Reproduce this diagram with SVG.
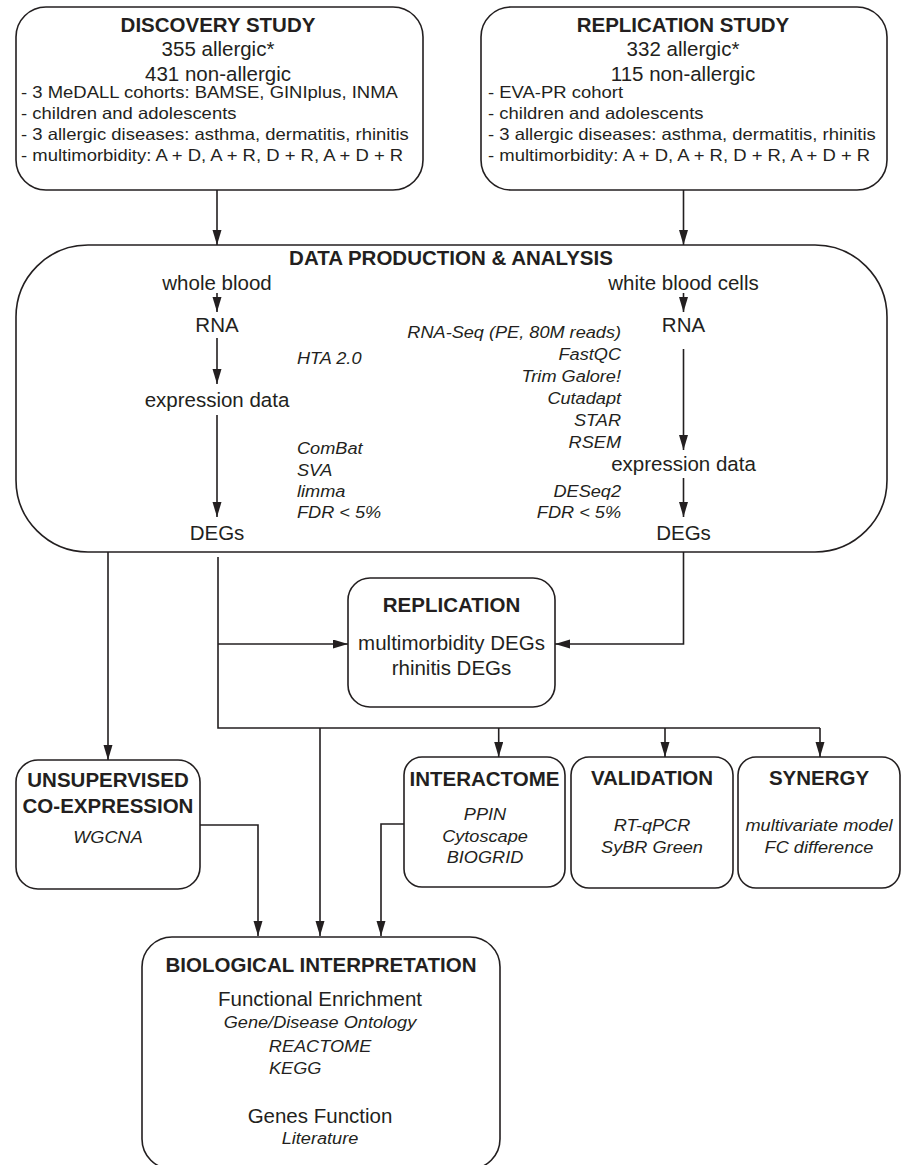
<svg xmlns="http://www.w3.org/2000/svg" width="904" height="1165" viewBox="0 0 904 1165">
<style>
text{font-family:"Liberation Sans",Arial,Helvetica,sans-serif;fill:#231f20}
.b{font-weight:bold;font-size:20.5px;text-anchor:middle}
.t{font-size:20.5px;text-anchor:middle}
.l{font-size:16.5px}
.i{font-size:16.5px;font-style:italic}
.c{text-anchor:middle}
.r{text-anchor:end}
.box{fill:#fff;stroke:#231f20;stroke-width:1.6}
.ln{fill:none;stroke:#231f20;stroke-width:1.6}
.ar{fill:none;stroke:#231f20;stroke-width:1.6;marker-end:url(#ah)}
</style>
<defs>
<marker id="ah" markerUnits="userSpaceOnUse" markerWidth="15" markerHeight="10" refX="15" refY="4.5" orient="auto">
<path d="M0,0 L15,4.5 L0,9 z" fill="#231f20"/>
</marker>
</defs>
<rect width="904" height="1165" fill="#fff"/>

<g id="discovery">
<rect class="box" x="16" y="7" width="407" height="183" rx="30" ry="30"/>
<text class="b" x="218" y="32">DISCOVERY STUDY</text>
<text class="t" x="218" y="56">355 allergic*</text>
<text class="t" x="218" y="80.5">431 non-allergic</text>
<text class="l" transform="translate(21,98) scale(1.12,1)">- 3 MeDALL cohorts: BAMSE, GINIplus, INMA</text>
<text class="l" transform="translate(21,118.5) scale(1.12,1)">- children and adolescents</text>
<text class="l" transform="translate(21,139.5) scale(1.12,1)">- 3 allergic diseases: asthma, dermatitis, rhinitis</text>
<text class="l" transform="translate(21,160.5) scale(1.12,1)">- multimorbidity: A + D, A + R, D + R, A + D + R</text>
</g>

<g id="replication-study">
<rect class="box" x="481" y="7" width="406" height="183" rx="30" ry="30"/>
<text class="b" x="683" y="32">REPLICATION STUDY</text>
<text class="t" x="683" y="56">332 allergic*</text>
<text class="t" x="683" y="80.5">115 non-allergic</text>
<text class="l" transform="translate(488,98) scale(1.12,1)">- EVA-PR cohort</text>
<text class="l" transform="translate(488,118.5) scale(1.12,1)">- children and adolescents</text>
<text class="l" transform="translate(488,139.5) scale(1.12,1)">- 3 allergic diseases: asthma, dermatitis, rhinitis</text>
<text class="l" transform="translate(488,160.5) scale(1.12,1)">- multimorbidity: A + D, A + R, D + R, A + D + R</text>
</g>

<g id="data-production">
<rect class="box" x="16" y="245" width="871" height="307" rx="72" ry="72"/>
<text class="b" x="451" y="265">DATA PRODUCTION &amp; ANALYSIS</text>
<text class="t" x="217" y="290">whole blood</text>
<text class="t" x="217" y="332">RNA</text>
<text class="t" x="217" y="407">expression data</text>
<text class="t" x="217" y="540">DEGs</text>
<text class="i" transform="translate(297,363.5) scale(1.1,1)">HTA 2.0</text>
<text class="i" transform="translate(297,454) scale(1.1,1)">ComBat</text>
<text class="i" transform="translate(297,475.5) scale(1.1,1)">SVA</text>
<text class="i" transform="translate(297,497) scale(1.1,1)">limma</text>
<text class="i" transform="translate(297,518) scale(1.1,1)">FDR &lt; 5%</text>
<text class="t" x="683.5" y="290">white blood cells</text>
<text class="t" x="683.5" y="332">RNA</text>
<text class="t" x="683.5" y="471">expression data</text>
<text class="t" x="683.5" y="540">DEGs</text>
<text class="i r" transform="translate(621,337.5) scale(1.1,1)">RNA-Seq (PE, 80M reads)</text>
<text class="i r" transform="translate(621,360) scale(1.1,1)">FastQC</text>
<text class="i r" transform="translate(621,381.5) scale(1.1,1)">Trim Galore!</text>
<text class="i r" transform="translate(621,403.5) scale(1.1,1)">Cutadapt</text>
<text class="i r" transform="translate(621,425.5) scale(1.1,1)">STAR</text>
<text class="i r" transform="translate(621,447.5) scale(1.1,1)">RSEM</text>
<text class="i r" transform="translate(621,497) scale(1.1,1)">DESeq2</text>
<text class="i r" transform="translate(621,518) scale(1.1,1)">FDR &lt; 5%</text>
</g>

<g id="replication">
<rect class="box" x="348" y="578" width="207" height="129" rx="22" ry="22"/>
<text class="b" x="451.5" y="612">REPLICATION</text>
<text class="t" x="451.5" y="650">multimorbidity DEGs</text>
<text class="t" x="451.5" y="675">rhinitis DEGs</text>
</g>

<g id="unsupervised">
<rect class="box" x="16" y="760" width="184" height="129" rx="22" ry="22"/>
<text class="b" x="108" y="787">UNSUPERVISED</text>
<text class="b" x="108" y="813">CO-EXPRESSION</text>
<text class="i c" transform="translate(108,843) scale(1.1,1)">WGCNA</text>
</g>

<g id="interactome">
<rect class="box" x="404" y="757" width="161" height="130" rx="18" ry="18"/>
<text class="b" x="484.5" y="786">INTERACTOME</text>
<text class="i c" transform="translate(485,820) scale(1.1,1)">PPIN</text>
<text class="i c" transform="translate(485,842) scale(1.1,1)">Cytoscape</text>
<text class="i c" transform="translate(485,863) scale(1.1,1)">BIOGRID</text>
</g>

<g id="validation">
<rect class="box" x="571" y="757" width="162" height="131" rx="18" ry="18"/>
<text class="b" x="652" y="785">VALIDATION</text>
<text class="i c" transform="translate(652,831) scale(1.1,1)">RT-qPCR</text>
<text class="i c" transform="translate(652,853) scale(1.1,1)">SyBR Green</text>
</g>

<g id="synergy">
<rect class="box" x="738" y="757" width="162" height="131" rx="18" ry="18"/>
<text class="b" x="819" y="785">SYNERGY</text>
<text class="i c" transform="translate(819,831) scale(1.1,1)">multivariate model</text>
<text class="i c" transform="translate(819,853) scale(1.1,1)">FC difference</text>
</g>

<g id="biological-interpretation">
<rect class="box" x="142" y="937" width="358" height="232" rx="30" ry="30"/>
<text class="b" x="321" y="972">BIOLOGICAL INTERPRETATION</text>
<text class="t" x="320" y="1006">Functional Enrichment</text>
<text class="i c" transform="translate(320,1028) scale(1.1,1)">Gene/Disease Ontology</text>
<text class="i c" transform="translate(320,1052) scale(1.1,1)">REACTOME</text>
<text class="i" transform="translate(269,1074) scale(1.1,1)">KEGG</text>
<text class="t" x="320" y="1123">Genes Function</text>
<text class="i c" transform="translate(320,1144) scale(1.1,1)">Literature</text>
</g>

<g id="connectors">
<line class="ar" x1="217" y1="190" x2="217" y2="245"/>
<line class="ar" x1="683.5" y1="190" x2="683.5" y2="245"/>
<line class="ar" x1="217" y1="293" x2="217" y2="312"/>
<line class="ar" x1="217" y1="338" x2="217" y2="384"/>
<line class="ar" x1="217" y1="415" x2="217" y2="517"/>
<line class="ar" x1="683.5" y1="293" x2="683.5" y2="312"/>
<line class="ar" x1="683.5" y1="349" x2="683.5" y2="450"/>
<line class="ar" x1="683.5" y1="478" x2="683.5" y2="517"/>
<line class="ar" x1="108" y1="552" x2="108" y2="760"/>
<polyline class="ln" points="218,557 218,728 820,728"/>
<line class="ar" x1="218" y1="644" x2="348" y2="644"/>
<polyline class="ar" points="683.5,552 683.5,644 555,644"/>
<line class="ar" x1="320" y1="728" x2="320" y2="936"/>
<line class="ar" x1="498.7" y1="728" x2="498.7" y2="757"/>
<line class="ar" x1="665" y1="728" x2="665" y2="757"/>
<line class="ar" x1="820" y1="728" x2="820" y2="757"/>
<polyline class="ar" points="200,825 258,825 258,936"/>
<polyline class="ar" points="404,824 381,824 381,936"/>
</g>
</svg>
